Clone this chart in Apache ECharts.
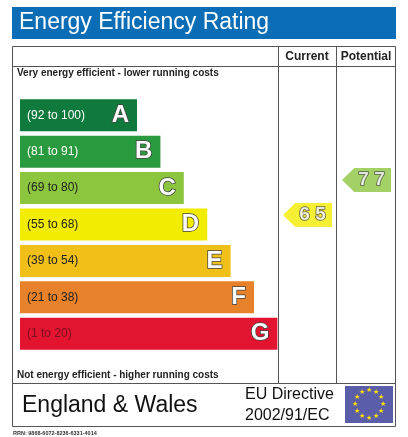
<!DOCTYPE html>
<html><head><meta charset="utf-8">
<script src="https://cdn.jsdelivr.net/npm/echarts@6/dist/echarts.min.js"></script>
<style>html,body{margin:0;padding:0;background:#fff}#c{width:408px;height:437px}</style>
</head><body><div id="c"></div>
<script>
const bands = ['A','B','C','D','E','F','G'];
const ranges = ['(92 to 100)','(81 to 91)','(69 to 80)','(55 to 68)','(39 to 54)','(21 to 38)','(1 to 20)'];
const bandLengths = [5,6,7,8,9,10,11];
const bandColors = ['#0f7a3c','#2a9a3e','#8cc63f','#f2ec00','#f0c019','#e8822a','#e2142f'];
const rangeTextColors = ['#fff','#fff','#222','#222','#222','#222','#7a1020'];
const ratingColumns = ['Current','Potential'];
const ratingValues = [65,77];
const ratingColors = ['#f2ec00','#8cc63f'];

const F = 'Arial, "Liberation Sans", sans-serif';
const chart = echarts.init(document.getElementById('c'));
const stars = [];
for (let i=0;i<12;i++){const a=i*Math.PI/6;stars.push({type:'text',style:{text:'★',x:369+14*Math.sin(a),y:404-14*Math.cos(a),fill:'#ffe000',fontSize:7,align:'center',verticalAlign:'middle'}});}
chart.setOption({
  animation:false,
  grid:[
    {left:20,top:97,width:257.4,height:255},
    {left:278,top:112.9,width:118,height:291.7}
  ],
  xAxis:[
    {gridIndex:0,type:'value',min:0,max:11,show:false},
    {gridIndex:1,type:'category',data:ratingColumns,show:false}
  ],
  yAxis:[
    {gridIndex:0,type:'category',data:bands,inverse:true,show:false},
    {gridIndex:1,type:'value',min:0,max:100,show:false}
  ],
  series:[
    {type:'bar',xAxisIndex:0,yAxisIndex:0,barWidth:32,
     data:bandLengths.map((v,i)=>({value:v,itemStyle:{color:bandColors[i]},
       label:{color:rangeTextColors[i]}})),
     label:{show:true,position:'insideLeft',offset:[2,0],fontFamily:F,fontSize:12,
       formatter:p=>ranges[p.dataIndex]}},
    {type:'bar',xAxisIndex:0,yAxisIndex:0,barWidth:32,barGap:'-100%',
     data:bandLengths.map(v=>({value:v,itemStyle:{color:'rgba(0,0,0,0)'}})),
     label:{show:true,position:'insideRight',offset:[-3,0],fontFamily:F,fontSize:24,fontWeight:'bold',
       color:'#fff',textBorderColor:'#444',textBorderWidth:1.5,formatter:p=>bands[p.dataIndex]}},
    {type:'scatter',xAxisIndex:1,yAxisIndex:1,
     symbol:'path://M0,12 L12,0 L48,0 L48,24 L12,24 Z',symbolSize:[49,24],
     data:ratingValues.map((v,i)=>({value:[ratingColumns[i],v],itemStyle:{color:ratingColors[i]}})),
     label:{show:true,position:'inside',offset:[5,0],fontFamily:F,fontSize:19,fontWeight:'bold',
       color:'#fff',textBorderColor:'#444',textBorderWidth:1.5,
       formatter:p=>String(p.value[1]).split('').join(' ')}}
  ],
  graphic:[
    {type:'rect',shape:{x:12,y:7,width:384,height:32},style:{fill:'#0a6db6'},z:-1},
    {type:'text',style:{text:'Energy Efficiency Rating',x:19,y:23,fill:'#fff',fontSize:23,fontFamily:F,verticalAlign:'middle'}},
    {type:'rect',shape:{x:12.5,y:46.5,width:383,height:380},style:{fill:'none',stroke:'#555',lineWidth:1}},
    {type:'line',shape:{x1:12,y1:66.5,x2:396,y2:66.5},style:{stroke:'#555'}},
    {type:'line',shape:{x1:12,y1:383.5,x2:396,y2:383.5},style:{stroke:'#555'}},
    {type:'line',shape:{x1:278.5,y1:46,x2:278.5,y2:383},style:{stroke:'#555'}},
    {type:'line',shape:{x1:336.5,y1:46,x2:336.5,y2:383},style:{stroke:'#555'}},
    {type:'text',style:{text:'Current',x:307,y:57,align:'center',verticalAlign:'middle',fontFamily:F,fontSize:12,fontWeight:'bold',fill:'#222'}},
    {type:'text',style:{text:'Potential',x:366,y:57,align:'center',verticalAlign:'middle',fontFamily:F,fontSize:12,fontWeight:'bold',fill:'#222'}},
    {type:'text',style:{text:'Very energy efficient - lower running costs',x:17,y:73,verticalAlign:'middle',fontFamily:F,fontSize:10,fontWeight:'bold',fill:'#222'}},
    {type:'text',style:{text:'Not energy efficient - higher running costs',x:17,y:375,verticalAlign:'middle',fontFamily:F,fontSize:10,fontWeight:'bold',fill:'#222'}},
    {type:'text',style:{text:'England & Wales',x:22,y:406,verticalAlign:'middle',fontFamily:F,fontSize:23,fill:'#111'}},
    {type:'text',style:{text:'EU Directive',x:245,y:395,verticalAlign:'middle',fontFamily:F,fontSize:16,fill:'#111'}},
    {type:'text',style:{text:'2002/91/EC',x:245,y:416,verticalAlign:'middle',fontFamily:F,fontSize:16,fill:'#111'}},
    {type:'rect',shape:{x:345,y:386,width:48,height:37},style:{fill:'#5a5ea8'}},
    ...stars,
    {type:'text',style:{text:'RRN: 9868-6072-8236-6331-4014',x:13,y:433,verticalAlign:'middle',fontFamily:F,fontSize:5.5,fontWeight:'bold',fill:'#333'}}
  ]
});
</script></body></html>
